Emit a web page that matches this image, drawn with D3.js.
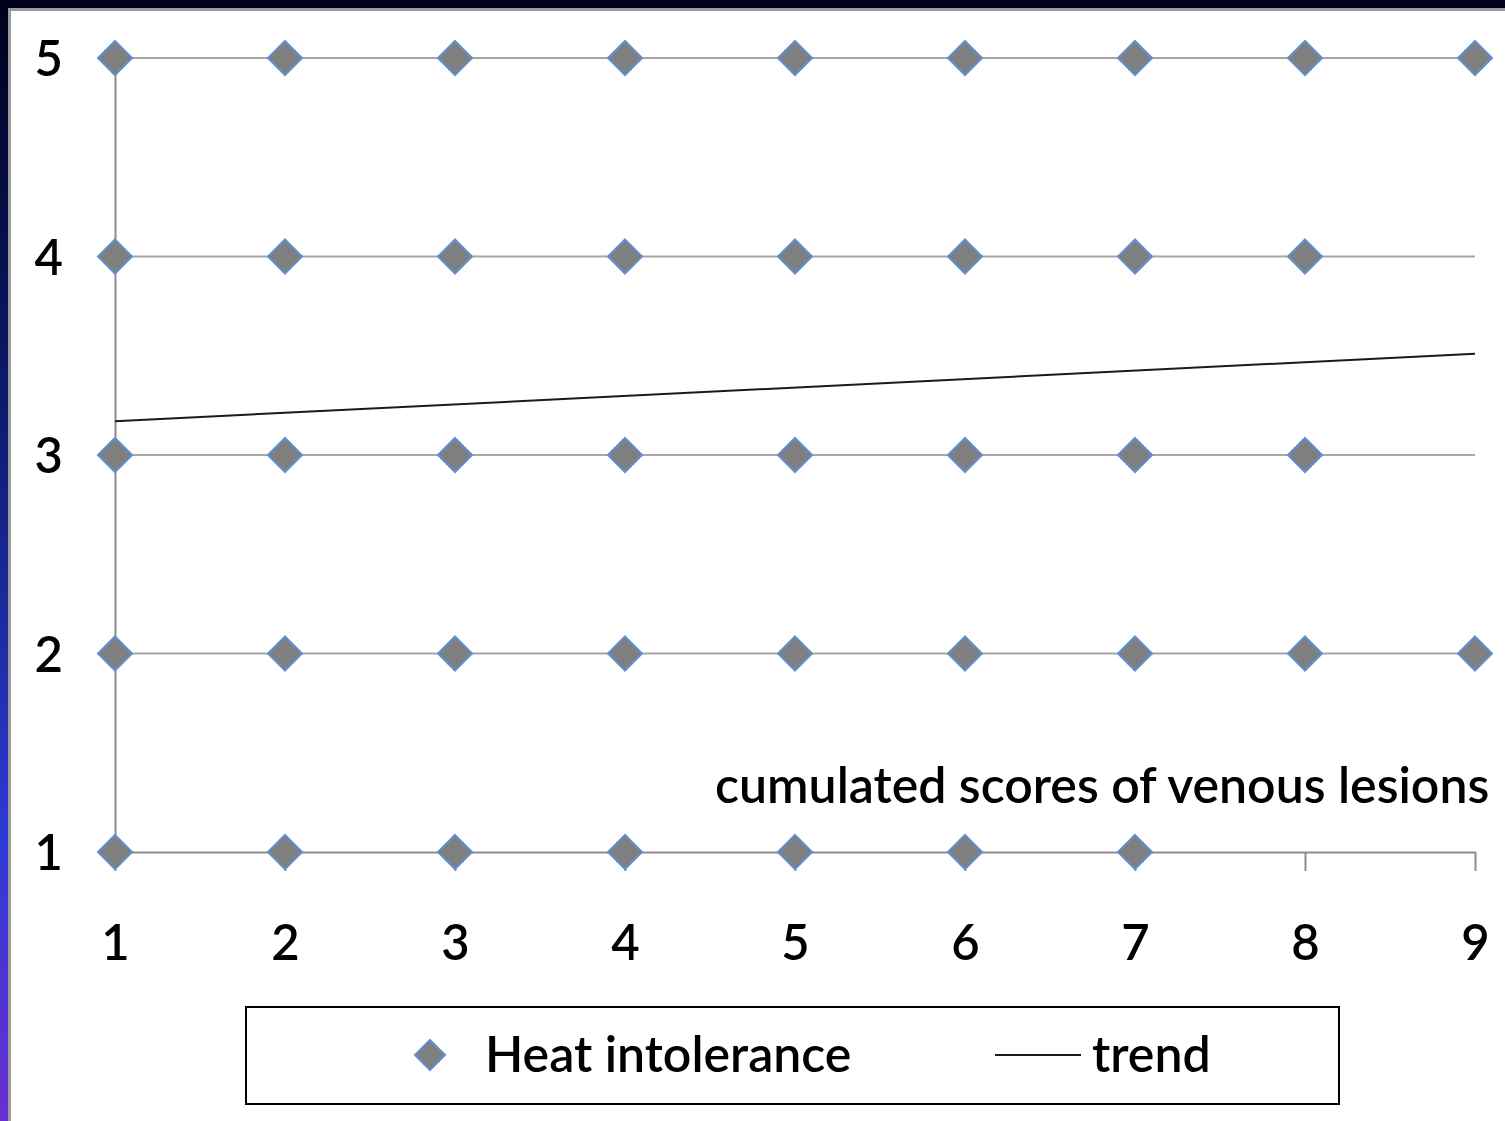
<!DOCTYPE html>
<html>
    <head>
        <title>Heat intolerance</title>
        <meta charset="utf-8">
        <style>
            html, body {
                margin: 0px;
                padding: 0px;
                background-color: #fff;
                font-family: Lato, "Open Sans", sans-serif;
                overflow: hidden;
            }

            svg text {
                fill: #000;
            }

            .axis .domain {
                stroke: #8c8c8c;
                stroke-width: 2;
            }

            .axis line {
                stroke: #8c8c8c;
                stroke-width: 2;
            }

            .axis text {
                font-family: Lato, sans-serif;
                font-size: 49px;
                font-weight: 600;
            }

            .label {
                font-size: 50px;
                font-weight: 600;
            }

            .grid line {
                stroke: #a6a6a6;
                stroke-width: 2;
            }
        </style>
        <script src="https://cdn.jsdelivr.net/npm/d3@7"></script>
    </head>
    <body>
        <div id="main"></div>

        <script>
            // points: one array of x values per y level
            var yLevels = [5, 4, 3, 2, 1];
            var xAt5 = [1, 2, 3, 4, 5, 6, 7, 8, 9];
            var xAt4 = [1, 2, 3, 4, 5, 6, 7, 8];
            var xAt3 = [1, 2, 3, 4, 5, 6, 7, 8];
            var xAt2 = [1, 2, 3, 4, 5, 6, 7, 8, 9];
            var xAt1 = [1, 2, 3, 4, 5, 6, 7];
            var xTicks = [1, 2, 3, 4, 5, 6, 7, 8, 9];
            var yTicks = [1, 2, 3, 4, 5];
            var trendX = [1, 9];
            var trendY = [3.17, 3.51];
            var seriesName = "Heat intolerance";
            var trendName = "trend";
            var axisTitle = "cumulated scores of venous lesions";

            var width = 1505;
            var height = 1121;
            var markerSize = 17;

            function diamond(s) {
                return "M0," + (-s) + "L" + s + ",0L0," + s + "L" + (-s) + ",0Z";
            }

            function main() {
                var svg = d3.select("#main")
                    .append("svg")
                    .attr("width", width)
                    .attr("height", height);

                // slide frame: dark strips on top and left, grey border
                var grad = svg.append("defs").append("linearGradient")
                    .attr("id", "side")
                    .attr("x1", 0).attr("y1", 0).attr("x2", 0).attr("y2", 1);
                grad.append("stop").attr("offset", "0%").attr("stop-color", "#00001c");
                grad.append("stop").attr("offset", "35%").attr("stop-color", "#0b1a6a");
                grad.append("stop").attr("offset", "75%").attr("stop-color", "#2e3ad6");
                grad.append("stop").attr("offset", "100%").attr("stop-color", "#6a2ed0");

                svg.append("rect").attr("x", 0).attr("y", 0).attr("width", width).attr("height", 8)
                    .attr("fill", "#00001c");
                svg.append("rect").attr("x", 0).attr("y", 0).attr("width", 8).attr("height", height)
                    .attr("fill", "url(#side)");
                svg.append("path")
                    .attr("d", "M9.5," + height + "V9.5H" + width)
                    .attr("fill", "none")
                    .attr("stroke", "#9a9a9a")
                    .attr("stroke-width", 3);

                var x = d3.scaleLinear().domain([1, 9]).range([115, 1475]);
                var y = d3.scaleLinear().domain([1, 5]).range([852, 58]);

                // horizontal gridlines
                svg.append("g")
                    .attr("class", "grid")
                    .selectAll("line")
                    .data(yTicks.filter(function(d) { return d > 1; }))
                    .enter()
                    .append("line")
                    .attr("x1", x(1))
                    .attr("x2", x(9))
                    .attr("y1", function(d) { return y(d); })
                    .attr("y2", function(d) { return y(d); });

                var yAxis = svg.append("g")
                    .attr("class", "axis")
                    .attr("transform", "translate(" + x(1) + ",0)")
                    .call(d3.axisLeft(y).tickValues(yTicks).tickSize(0).tickPadding(52).tickFormat(d3.format("d")));
                yAxis.selectAll("text").attr("dy", "0.36em");

                var xAxis = svg.append("g")
                    .attr("class", "axis")
                    .attr("transform", "translate(0," + y(1) + ")")
                    .call(d3.axisBottom(x).tickValues(xTicks).tickSize(19).tickSizeOuter(0).tickFormat(d3.format("d")));
                xAxis.selectAll("text").attr("y", 108).attr("dy", 0);

                // axis title sits inside the plot
                svg.append("text")
                    .attr("class", "label")
                    .attr("x", 715)
                    .attr("y", 803)
                    .text(axisTitle);

                // trend line
                var line = d3.line()
                    .x(function(d) { return x(d[0]); })
                    .y(function(d) { return y(d[1]); });
                svg.append("path")
                    .datum(d3.zip(trendX, trendY))
                    .attr("d", line)
                    .attr("fill", "none")
                    .attr("stroke", "#1a1a1a")
                    .attr("stroke-width", 2);

                var points = [];
                [xAt5, xAt4, xAt3, xAt2, xAt1].forEach(function(xs, i) {
                    xs.forEach(function(v) { points.push({x: v, y: yLevels[i]}); });
                });

                svg.append("g")
                    .selectAll("path")
                    .data(points)
                    .enter()
                    .append("path")
                    .attr("d", diamond(markerSize))
                    .attr("transform", function(d) { return "translate(" + x(d.x) + "," + y(d.y) + ")"; })
                    .attr("fill", "#7f7f7f")
                    .attr("stroke", "#5f8fcf")
                    .attr("stroke-width", 2);

                // legend
                var legend = svg.append("g");
                legend.append("rect")
                    .attr("x", 246).attr("y", 1007)
                    .attr("width", 1093).attr("height", 97)
                    .attr("fill", "#fff")
                    .attr("stroke", "#000")
                    .attr("stroke-width", 2);
                legend.append("path")
                    .attr("d", diamond(15))
                    .attr("transform", "translate(430,1055)")
                    .attr("fill", "#7f7f7f")
                    .attr("stroke", "#5f8fcf")
                    .attr("stroke-width", 2);
                legend.append("text")
                    .attr("class", "label")
                    .attr("x", 485).attr("y", 1072)
                    .text(seriesName);
                legend.append("line")
                    .attr("x1", 995).attr("x2", 1081)
                    .attr("y1", 1055).attr("y2", 1055)
                    .attr("stroke", "#1a1a1a")
                    .attr("stroke-width", 2);
                legend.append("text")
                    .attr("class", "label")
                    .attr("x", 1092).attr("y", 1072)
                    .text(trendName);
            }

            main();
        </script>
    </body>
</html>
